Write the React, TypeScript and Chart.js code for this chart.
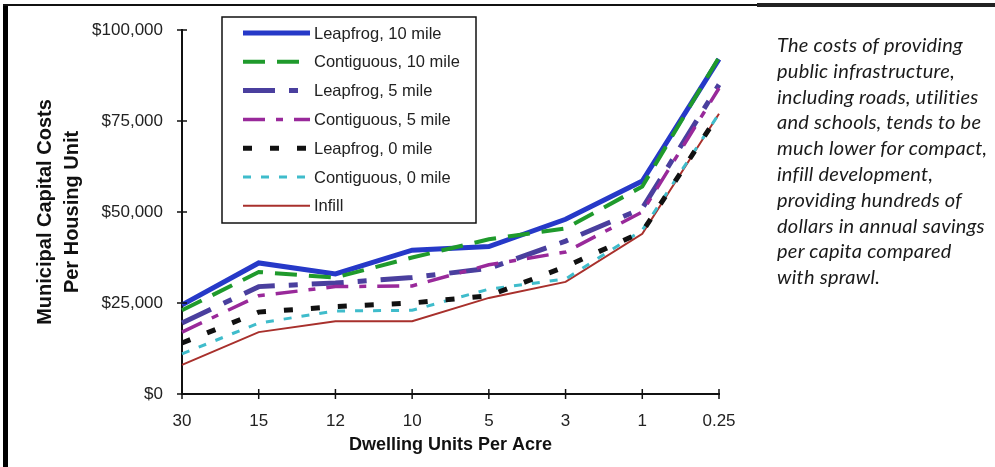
import React, { useEffect, useRef } from "react";
import { Chart, registerables } from "chart.js";

Chart.register(...registerables);

// ---- data ----
const categories = ["30", "15", "12", "10", "5", "3", "1", "0.25"];
const seriesNames = [
  "Leapfrog, 10 mile",
  "Contiguous, 10 mile",
  "Leapfrog, 5 mile",
  "Contiguous, 5 mile",
  "Leapfrog, 0 mile",
  "Contiguous, 0 mile",
  "Infill",
];
const leapfrog10 = [24500, 36000, 33000, 39500, 40500, 48000, 58500, 92000];
const contiguous10 = [23000, 33500, 32000, 37500, 42500, 45500, 57000, 92500];
const leapfrog5 = [19500, 29500, 30500, 32000, 34500, 42000, 51000, 85000];
const contiguous5 = [17000, 27000, 29500, 29700, 35500, 39000, 50000, 84000];
const leapfrog0 = [14000, 22500, 24000, 25000, 27000, 35000, 44500, 77000];
const contiguous0 = [11000, 19500, 22800, 23000, 28800, 31600, 45000, 77000];
const infill = [8000, 17000, 20000, 20000, 26400, 30800, 44000, 77000];
const yTickValues = [0, 25000, 50000, 75000, 100000];
const yTitle = ["Municipal Capital Costs", "Per Housing Unit"];
const xTitle = "Dwelling Units Per Acre";
const captionLines = [
  "The costs of providing",
  "public infrastructure,",
  "including roads, utilities",
  "and schools, tends to be",
  "much lower for compact,",
  "infill development,",
  "providing hundreds of",
  "dollars in annual savings",
  "per capita compared",
  "with sprawl.",
];

const seriesValues = [leapfrog10, contiguous10, leapfrog5, contiguous5, leapfrog0, contiguous0, infill];

// ---- styles ----
const styles = [
  { color: "#2639c8", width: 5, dash: [] as number[], order: 7 },
  { color: "#1f9a2c", width: 4, dash: [22, 12], order: 6 },
  { color: "#4a3f9e", width: 5, dash: [32, 14, 9, 14], order: 5 },
  { color: "#99299a", width: 3.5, dash: [22, 11, 7, 11], order: 4 },
  { color: "#111111", width: 5, dash: [9, 18], order: 1 },
  { color: "#3fbccb", width: 3, dash: [8, 10], order: 2 },
  { color: "#a8302c", width: 2, dash: [] as number[], order: 3 },
];

const FONT = "'Liberation Sans', Arial, sans-serif";

const legendPlugin = {
  id: "boxLegend",
  afterDatasetsDraw(chart: any) {
    const ctx = chart.ctx as CanvasRenderingContext2D;
    const x0 = 222, y0 = 17, w = 254, h = 206;
    ctx.save();
    ctx.fillStyle = "#ffffff";
    ctx.fillRect(x0, y0, w, h);
    ctx.strokeStyle = "#111";
    ctx.lineWidth = 1.5;
    ctx.strokeRect(x0, y0, w, h);
    chart.data.datasets.forEach((ds: any, i: number) => {
      const cy = 33 + i * 28.8;
      ctx.beginPath();
      ctx.setLineDash(ds.borderDash || []);
      ctx.lineWidth = ds.borderWidth;
      ctx.strokeStyle = ds.borderColor;
      ctx.lineCap = "butt";
      ctx.moveTo(243, cy);
      ctx.lineTo(310, cy);
      ctx.stroke();
      ctx.setLineDash([]);
      ctx.fillStyle = "#222";
      ctx.font = `16.5px ${FONT}`;
      ctx.textBaseline = "middle";
      ctx.textAlign = "left";
      ctx.fillText(ds.label, 314, cy + 1);
    });
    ctx.restore();
  },
};

const tickMarkPlugin = {
  id: "crossTicks",
  afterDraw(chart: any) {
    const ctx = chart.ctx as CanvasRenderingContext2D;
    const xs = chart.scales.x;
    const ys = chart.scales.y;
    const area = chart.chartArea;
    ctx.save();
    ctx.strokeStyle = "#111";
    ctx.lineWidth = 1.5;
    ys.ticks.forEach((t: any) => {
      const y = ys.getPixelForValue(t.value);
      ctx.beginPath();
      ctx.moveTo(area.left - 5, y);
      ctx.lineTo(area.left + 5, y);
      ctx.stroke();
    });
    categories.forEach((_, i) => {
      const x = xs.getPixelForValue(i);
      ctx.beginPath();
      ctx.moveTo(x, area.bottom - 5);
      ctx.lineTo(x, area.bottom + 5);
      ctx.stroke();
    });
    ctx.restore();
  },
};

export default function App() {
  const ref = useRef<HTMLCanvasElement | null>(null);

  useEffect(() => {
    if (!ref.current) return;
    const chart = new Chart(ref.current, {
      type: "line",
      data: {
        labels: categories,
        datasets: seriesNames.map((name, i) => ({
          label: name,
          data: seriesValues[i],
          borderColor: styles[i].color,
          backgroundColor: styles[i].color,
          borderWidth: styles[i].width,
          borderDash: styles[i].dash,
          order: styles[i].order,
          pointRadius: 0,
          tension: 0,
          fill: false,
          borderCapStyle: "butt" as const,
          borderJoinStyle: "miter" as const,
        })),
      },
      options: {
        responsive: false,
        animation: false,
        layout: { padding: { left: 20, top: 30, right: 276, bottom: 0 } },
        plugins: {
          legend: { display: false },
          tooltip: { enabled: false },
        },
        scales: {
          x: {
            type: "category",
            offset: false,
            grid: { display: false, drawTicks: false },
            border: { display: true, color: "#111", width: 2 },
            ticks: {
              color: "#222",
              font: { family: FONT, size: 17 },
              padding: 17,
              maxRotation: 0,
              autoSkip: false,
            },
            title: {
              display: true,
              text: xTitle,
              color: "#111",
              font: { family: FONT, size: 18, weight: "bold" },
              padding: { top: 0, bottom: 11 },
            },
            afterFit: (scale: any) => {
              scale.height = 73;
            },
          },
          y: {
            min: 0,
            max: 100000,
            grid: { display: false, drawTicks: false },
            border: { display: true, color: "#111", width: 2 },
            afterBuildTicks: (scale: any) => {
              scale.ticks = yTickValues.map((v) => ({ value: v }));
            },
            ticks: {
              color: "#222",
              font: { family: FONT, size: 17 },
              padding: 19,
              callback: (v: any) => "$" + Number(v).toLocaleString("en-US"),
            },
            title: {
              display: true,
              text: yTitle,
              color: "#111",
              font: { family: FONT, size: 20, weight: "bold", lineHeight: "27px" },
              padding: { top: 12, bottom: 0 },
            },
            afterFit: (scale: any) => {
              scale.width = 162;
            },
          },
        },
      },
      plugins: [legendPlugin, tickMarkPlugin],
    });
    return () => chart.destroy();
  }, []);

  return (
    <div
      style={{
        position: "fixed",
        left: 0,
        top: 0,
        width: 995,
        height: 467,
        background: "#fff",
        overflow: "hidden",
      }}
    >
      <canvas ref={ref} width={995} height={467} style={{ display: "block", position: "absolute", left: 0, top: 0 }} />
      <div style={{ position: "absolute", left: 3, top: 5, width: 5, height: 462, background: "#000" }} />
      <div style={{ position: "absolute", left: 3, top: 4, width: 755, height: 2, background: "#111" }} />
      <div style={{ position: "absolute", left: 757, top: 3, width: 238, height: 4, background: "#222" }} />
      <div
        style={{
          position: "absolute",
          left: 777,
          top: 32,
          fontFamily: "Lato, 'Open Sans', sans-serif",
          fontStyle: "italic",
          fontSize: 20,
          letterSpacing: "0.25px",
          lineHeight: "25.8px",
          color: "#1a1a1a",
          whiteSpace: "nowrap",
        }}
      >
        {captionLines.map((l, i) => (
          <div key={i}>{l}</div>
        ))}
      </div>
    </div>
  );
}
